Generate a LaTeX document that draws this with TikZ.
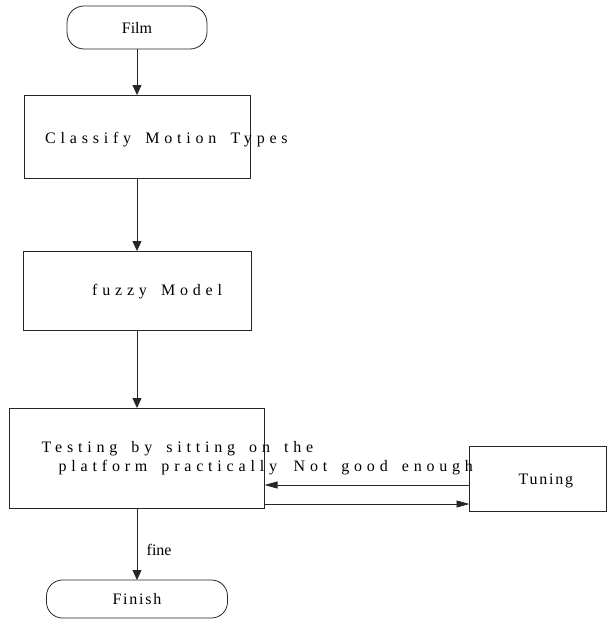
\documentclass[tikz,border=0pt]{standalone}
\usepackage{fontspec}
\setmainfont{Liberation Serif}
\newfontfamily\widefont[LetterSpace=30,WordSpace=1.6]{Liberation Serif}
\newfontfamily\tightfont[LetterSpace=11]{Liberation Serif}
\usetikzlibrary{positioning,arrows.meta}

\begin{document}
\begin{tikzpicture}[
termnode/.style={rectangle, rounded corners=17pt, draw=black!85, line width=0.8pt, inner sep=0pt, outer sep=0pt, font=\fontsize{16}{19}\selectfont},
boxnode/.style={rectangle, draw=black!85, line width=0.8pt, inner sep=0pt, outer sep=0pt},
boxtext/.style={inner sep=0pt, anchor=base west, font=\fontsize{16}{19}\selectfont\widefont},
labeltext/.style={inner sep=0pt, anchor=base west, font=\fontsize{16}{19}\selectfont},
flow/.style={-{Triangle[length=10pt,width=9pt]}, draw=black!85, line width=0.8pt},
back/.style={-{Triangle[length=13pt,width=7pt]}, draw=black!85, line width=0.8pt},
]
\useasboundingbox (0,0) rectangle (607pt,-627pt);
%Nodes
\node[termnode, minimum width=140pt, minimum height=43pt] (film) at (137pt,-27.5pt) {Film};
\node[boxnode, minimum width=226pt, minimum height=83pt] (classify) [below=46pt of film] {};
\node[boxnode, minimum width=228pt, minimum height=79pt] (fuzzy) [below=73pt of classify] {};
\node[boxnode, minimum width=255pt, minimum height=100pt] (testing) [below=78pt of fuzzy] {};
\node[boxnode, minimum width=137pt, minimum height=65pt] (tuning) [right=205pt of testing, yshift=-20.5pt] {};
\node[termnode, rounded corners=16pt, minimum width=181pt, minimum height=38pt, font=\fontsize{16}{19}\selectfont\tightfont] (finish) [below=72pt of testing] {Finish};

%Texts
\node[boxtext] (classifytext) at ([xshift=21pt,yshift=-6.5pt]classify.west) {Classify Motion Types};
\node[boxtext] (fuzzytext) at ([xshift=69pt,yshift=-4.5pt]fuzzy.west) {fuzzy Model};
\node[boxtext] (testingtext) at ([xshift=32pt,yshift=6pt]testing.west) {Testing by sitting on the};
\node[boxtext] (platformtext) at ([xshift=17pt,yshift=-19pt]testingtext.base west) {platform practically};
\node[boxtext] (notgood) at ([xshift=29pt,yshift=-13pt]testing.east) {Not good enough};
\node[boxtext, font=\fontsize{16}{19}\selectfont\tightfont] (tuningtext) at ([xshift=49pt,yshift=-5.5pt]tuning.west) {Tuning};
\node[labeltext] (finetext) at ([xshift=9.5pt,yshift=-47pt]testing.south) {fine};

%Lines
\draw[flow] (film) -- (classify);
\draw[flow] (classify) -- (fuzzy);
\draw[flow] (fuzzy) -- (testing);
\draw[flow] (testing) -- (finish);
\draw[back] ([yshift=-6.5pt]tuning.west) -- ([yshift=-6.5pt]tuning.west -| testing.east);
\draw[back] ([yshift=-25.5pt]tuning.west -| testing.east) -- ([yshift=-25.5pt]tuning.west);

\end{tikzpicture}
\end{document}
